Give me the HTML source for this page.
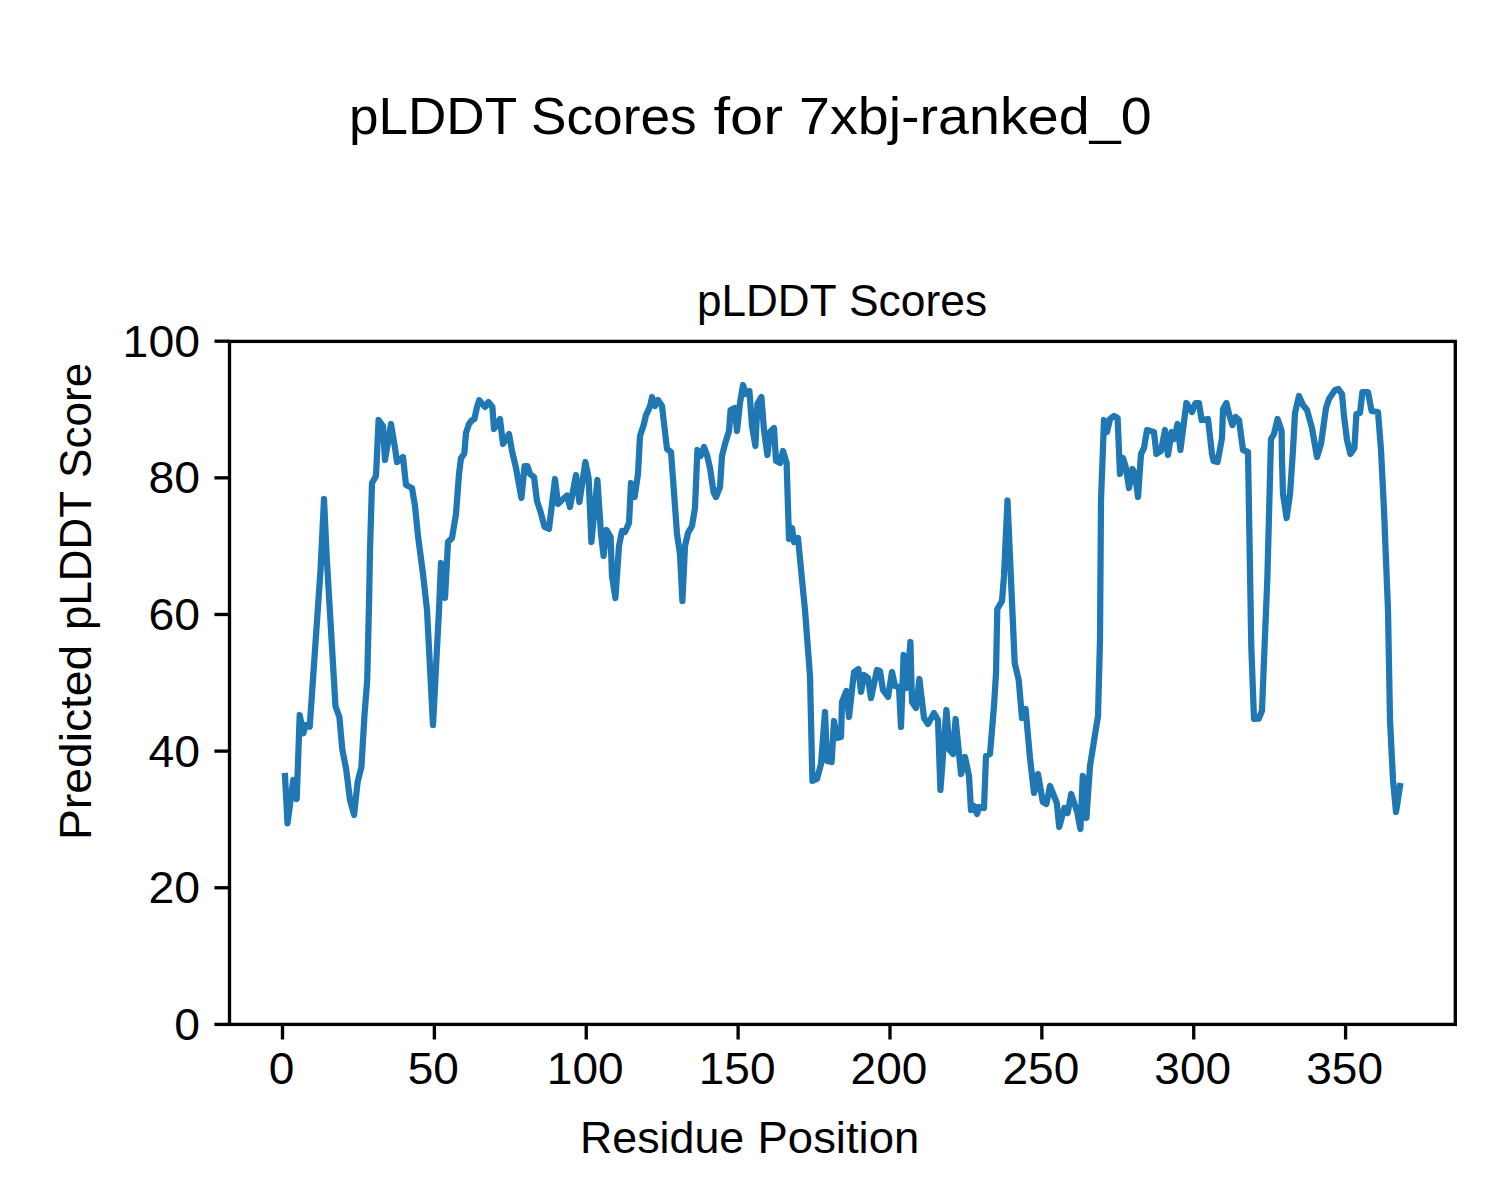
<!DOCTYPE html>
<html><head><meta charset="utf-8"><title>pLDDT Scores for 7xbj-ranked_0</title><style>
html,body{margin:0;padding:0;background:#fff;width:1500px;height:1200px;overflow:hidden}
svg{display:block}
text{font-family:"Liberation Sans",sans-serif;fill:#000}
</style></head><body>
<svg width="1500" height="1200" viewBox="0 0 1500 1200">
<rect width="1500" height="1200" fill="#fff"/>
<path d="M285.0,776.0 L287.5,823.3 L293.3,780.0 L296.7,799.2 L299.7,715.0 L303.3,733.3 L305.8,725.0 L309.7,726.7 L320.6,569.0 L324.0,499.0 L326.6,555.0 L335.5,706.4 L339.4,717.0 L342.3,749.5 L346.1,768.7 L350.0,800.0 L354.1,815.0 L357.6,782.0 L361.4,767.0 L364.5,715.0 L367.2,680.5 L369.1,600.0 L370.0,550.0 L372.0,483.0 L376.0,476.0 L378.6,420.0 L383.0,426.0 L385.0,460.0 L391.0,424.0 L395.0,448.0 L397.0,462.0 L403.0,457.0 L406.0,485.0 L412.0,488.0 L415.0,506.0 L418.0,536.0 L423.0,574.0 L427.0,610.0 L433.0,725.0 L439.0,610.0 L441.0,563.0 L445.0,598.0 L448.0,542.0 L452.0,538.0 L456.0,514.0 L459.0,474.0 L461.0,458.0 L464.3,453.6 L466.0,433.0 L469.0,424.0 L471.7,420.5 L474.4,419.0 L477.0,407.0 L479.2,400.3 L485.0,407.0 L488.4,402.0 L492.4,407.0 L494.0,429.0 L500.0,419.0 L503.0,444.0 L509.0,434.0 L512.0,451.0 L516.0,468.0 L521.4,498.0 L524.6,466.0 L527.4,466.0 L530.0,474.0 L534.0,477.0 L537.0,501.0 L540.6,512.0 L544.6,527.0 L549.0,529.0 L555.0,479.0 L558.0,504.0 L562.0,500.0 L567.0,495.6 L570.0,507.0 L576.0,475.0 L579.4,502.0 L585.4,462.0 L588.6,478.0 L591.4,542.0 L597.4,480.0 L601.0,534.0 L603.6,556.0 L606.6,530.0 L610.6,537.0 L612.0,576.0 L615.4,598.0 L619.0,546.0 L622.0,531.0 L625.0,532.0 L629.0,523.0 L631.0,483.0 L634.6,497.0 L638.0,474.0 L640.0,436.0 L643.7,425.0 L646.0,415.0 L648.5,410.0 L650.5,404.5 L652.0,397.0 L655.0,406.0 L658.0,400.0 L662.0,406.0 L667.0,449.0 L671.0,452.0 L675.0,506.0 L677.0,534.0 L680.0,554.0 L682.4,601.0 L685.0,546.0 L688.0,533.0 L692.0,526.0 L695.0,508.0 L697.4,450.0 L700.6,456.0 L704.0,447.0 L707.0,455.0 L710.0,468.0 L713.5,492.0 L716.0,497.0 L720.0,487.0 L722.0,456.0 L725.0,444.0 L729.0,431.0 L730.6,410.0 L734.6,408.0 L737.0,431.0 L740.0,403.0 L743.0,385.0 L746.0,394.0 L749.4,391.0 L752.0,426.0 L755.4,446.0 L757.4,404.0 L761.4,397.0 L764.0,430.0 L767.4,455.0 L770.0,432.0 L774.0,428.0 L776.0,461.0 L780.0,463.0 L783.0,451.0 L786.6,463.0 L789.0,539.0 L792.0,528.0 L794.0,542.0 L798.0,538.0 L803.0,590.0 L805.0,610.0 L810.0,676.0 L812.4,781.0 L817.0,779.0 L821.0,764.0 L825.0,712.0 L827.0,761.0 L831.6,762.0 L834.0,721.0 L837.0,738.0 L841.0,737.0 L842.0,702.0 L846.4,691.0 L849.0,717.0 L854.0,672.0 L858.4,669.0 L861.0,692.0 L864.0,675.0 L868.0,678.0 L871.0,698.0 L877.0,670.0 L880.0,671.0 L883.0,690.0 L888.0,697.0 L892.0,672.0 L895.0,686.0 L899.0,687.0 L901.0,727.0 L903.6,655.0 L907.0,688.0 L910.4,642.0 L912.0,702.0 L916.0,708.0 L919.4,679.0 L924.0,718.0 L928.0,724.0 L934.0,713.0 L938.0,720.0 L940.4,790.0 L946.4,710.0 L949.6,750.0 L953.0,754.0 L955.6,719.0 L961.0,774.0 L965.0,757.0 L969.0,776.0 L971.0,810.0 L974.0,806.0 L977.0,814.0 L979.0,807.0 L984.0,808.0 L986.0,756.0 L990.0,754.0 L992.0,730.0 L994.0,706.0 L996.0,674.0 L997.3,609.0 L1002.0,601.0 L1004.0,576.0 L1007.5,500.5 L1014.7,663.0 L1018.7,680.0 L1022.0,718.0 L1025.6,709.0 L1030.0,758.0 L1034.0,793.0 L1038.0,774.0 L1042.8,802.0 L1046.4,804.0 L1050.0,786.0 L1054.8,798.0 L1056.8,803.0 L1059.2,827.0 L1064.4,808.0 L1067.6,813.0 L1071.2,794.0 L1077.2,812.0 L1080.4,829.0 L1082.8,776.0 L1086.4,818.0 L1090.0,766.0 L1098.0,716.0 L1100.0,640.0 L1101.0,500.0 L1104.0,420.0 L1107.0,432.0 L1110.0,419.0 L1114.0,416.0 L1117.6,418.0 L1120.0,474.0 L1123.0,458.0 L1126.0,468.0 L1129.0,488.0 L1132.4,469.0 L1135.0,474.0 L1138.0,497.0 L1141.0,454.0 L1144.0,448.0 L1147.0,430.0 L1154.0,432.0 L1156.4,454.0 L1161.0,451.0 L1165.0,430.0 L1168.0,455.0 L1171.6,432.0 L1174.0,439.0 L1177.6,424.0 L1180.4,450.0 L1186.4,403.0 L1192.0,412.0 L1195.6,403.0 L1199.0,403.0 L1201.6,420.0 L1208.0,419.0 L1212.0,454.0 L1213.6,461.0 L1217.6,462.0 L1222.0,438.0 L1223.0,409.0 L1226.4,403.0 L1229.0,414.0 L1232.4,425.0 L1235.6,417.0 L1239.0,420.0 L1243.0,450.0 L1248.0,452.0 L1251.3,646.7 L1254.0,719.0 L1258.7,718.7 L1262.0,710.7 L1264.0,660.0 L1267.3,580.0 L1271.0,439.0 L1274.0,434.0 L1277.6,419.0 L1281.6,431.0 L1282.0,460.0 L1283.0,494.0 L1286.6,518.0 L1290.0,494.0 L1293.0,450.0 L1295.0,413.0 L1299.0,396.0 L1303.0,405.0 L1307.0,410.0 L1312.0,428.0 L1317.0,457.0 L1321.0,444.0 L1326.0,408.0 L1329.0,399.0 L1335.0,390.0 L1338.4,389.0 L1342.0,394.0 L1344.0,416.0 L1347.0,440.0 L1350.4,454.0 L1354.4,448.0 L1356.4,414.0 L1360.0,413.0 L1362.4,392.0 L1368.0,392.0 L1371.6,411.0 L1378.0,412.0 L1381.0,450.0 L1384.0,510.0 L1388.0,610.0 L1390.0,720.0 L1393.0,780.0 L1396.0,812.0 L1400.0,786.0" fill="none" stroke="#1f77b4" stroke-width="6.25" stroke-linejoin="round" stroke-linecap="square"/>
<rect x="229.5" y="341.4" width="1225.80" height="683.00" fill="none" stroke="#000" stroke-width="3.33" stroke-linejoin="miter"/>
<g stroke="#000" stroke-width="3.33"><line x1="282.50" y1="1024.4" x2="282.50" y2="1039.50"/><line x1="434.37" y1="1024.4" x2="434.37" y2="1039.50"/><line x1="586.24" y1="1024.4" x2="586.24" y2="1039.50"/><line x1="738.11" y1="1024.4" x2="738.11" y2="1039.50"/><line x1="889.98" y1="1024.4" x2="889.98" y2="1039.50"/><line x1="1041.85" y1="1024.4" x2="1041.85" y2="1039.50"/><line x1="1193.72" y1="1024.4" x2="1193.72" y2="1039.50"/><line x1="1345.59" y1="1024.4" x2="1345.59" y2="1039.50"/><line x1="229.5" y1="1024.40" x2="214.40" y2="1024.40"/><line x1="229.5" y1="887.76" x2="214.40" y2="887.76"/><line x1="229.5" y1="751.12" x2="214.40" y2="751.12"/><line x1="229.5" y1="614.48" x2="214.40" y2="614.48"/><line x1="229.5" y1="477.84" x2="214.40" y2="477.84"/><line x1="229.5" y1="341.20" x2="214.40" y2="341.20"/></g>
<text x="349.00" y="133.7" font-size="52.3" textLength="168.13" lengthAdjust="spacingAndGlyphs">pLDDT</text>
<text x="531.00" y="133.7" font-size="52.3" textLength="165.64" lengthAdjust="spacingAndGlyphs">Scores</text>
<text x="713.50" y="133.7" font-size="52.3" textLength="69.55" lengthAdjust="spacingAndGlyphs">for</text>
<text x="799.00" y="133.7" font-size="52.3" textLength="352.58" lengthAdjust="spacingAndGlyphs">7xbj-ranked_0</text>
<text x="697.00" y="316" font-size="43.6" textLength="139.61" lengthAdjust="spacingAndGlyphs">pLDDT</text>
<text x="849.00" y="316" font-size="43.6" textLength="138.10" lengthAdjust="spacingAndGlyphs">Scores</text>
<text x="580.00" y="1152.5" font-size="43.6" textLength="164.24" lengthAdjust="spacingAndGlyphs">Residue</text>
<text x="757.50" y="1152.5" font-size="43.6" textLength="161.81" lengthAdjust="spacingAndGlyphs">Position</text>
<text x="281.50" y="1083.6" font-size="45" text-anchor="middle" textLength="25.60" lengthAdjust="spacingAndGlyphs">0</text>
<text x="433.37" y="1083.6" font-size="45" text-anchor="middle" textLength="51.20" lengthAdjust="spacingAndGlyphs">50</text>
<text x="585.24" y="1083.6" font-size="45" text-anchor="middle" textLength="76.80" lengthAdjust="spacingAndGlyphs">100</text>
<text x="737.11" y="1083.6" font-size="45" text-anchor="middle" textLength="76.80" lengthAdjust="spacingAndGlyphs">150</text>
<text x="888.98" y="1083.6" font-size="45" text-anchor="middle" textLength="76.80" lengthAdjust="spacingAndGlyphs">200</text>
<text x="1040.85" y="1083.6" font-size="45" text-anchor="middle" textLength="76.80" lengthAdjust="spacingAndGlyphs">250</text>
<text x="1192.72" y="1083.6" font-size="45" text-anchor="middle" textLength="76.80" lengthAdjust="spacingAndGlyphs">300</text>
<text x="1344.59" y="1083.6" font-size="45" text-anchor="middle" textLength="76.80" lengthAdjust="spacingAndGlyphs">350</text>
<text x="200.00" y="1040.00" font-size="45" text-anchor="end" textLength="25.80" lengthAdjust="spacingAndGlyphs">0</text>
<text x="200.00" y="903.36" font-size="45" text-anchor="end" textLength="51.60" lengthAdjust="spacingAndGlyphs">20</text>
<text x="200.00" y="766.72" font-size="45" text-anchor="end" textLength="51.60" lengthAdjust="spacingAndGlyphs">40</text>
<text x="200.00" y="630.08" font-size="45" text-anchor="end" textLength="51.60" lengthAdjust="spacingAndGlyphs">60</text>
<text x="200.00" y="493.44" font-size="45" text-anchor="end" textLength="51.60" lengthAdjust="spacingAndGlyphs">80</text>
<text x="200.00" y="356.80" font-size="45" text-anchor="end" textLength="77.40" lengthAdjust="spacingAndGlyphs">100</text>
<text transform="translate(90.5,840.00) rotate(-90)" font-size="43.6" textLength="195.27" lengthAdjust="spacingAndGlyphs">Predicted</text>
<text transform="translate(90.5,630.00) rotate(-90)" font-size="43.6" textLength="139.08" lengthAdjust="spacingAndGlyphs">pLDDT</text>
<text transform="translate(90.5,478.00) rotate(-90)" font-size="43.6" textLength="115.16" lengthAdjust="spacingAndGlyphs">Score</text>
</svg>
</body></html>
